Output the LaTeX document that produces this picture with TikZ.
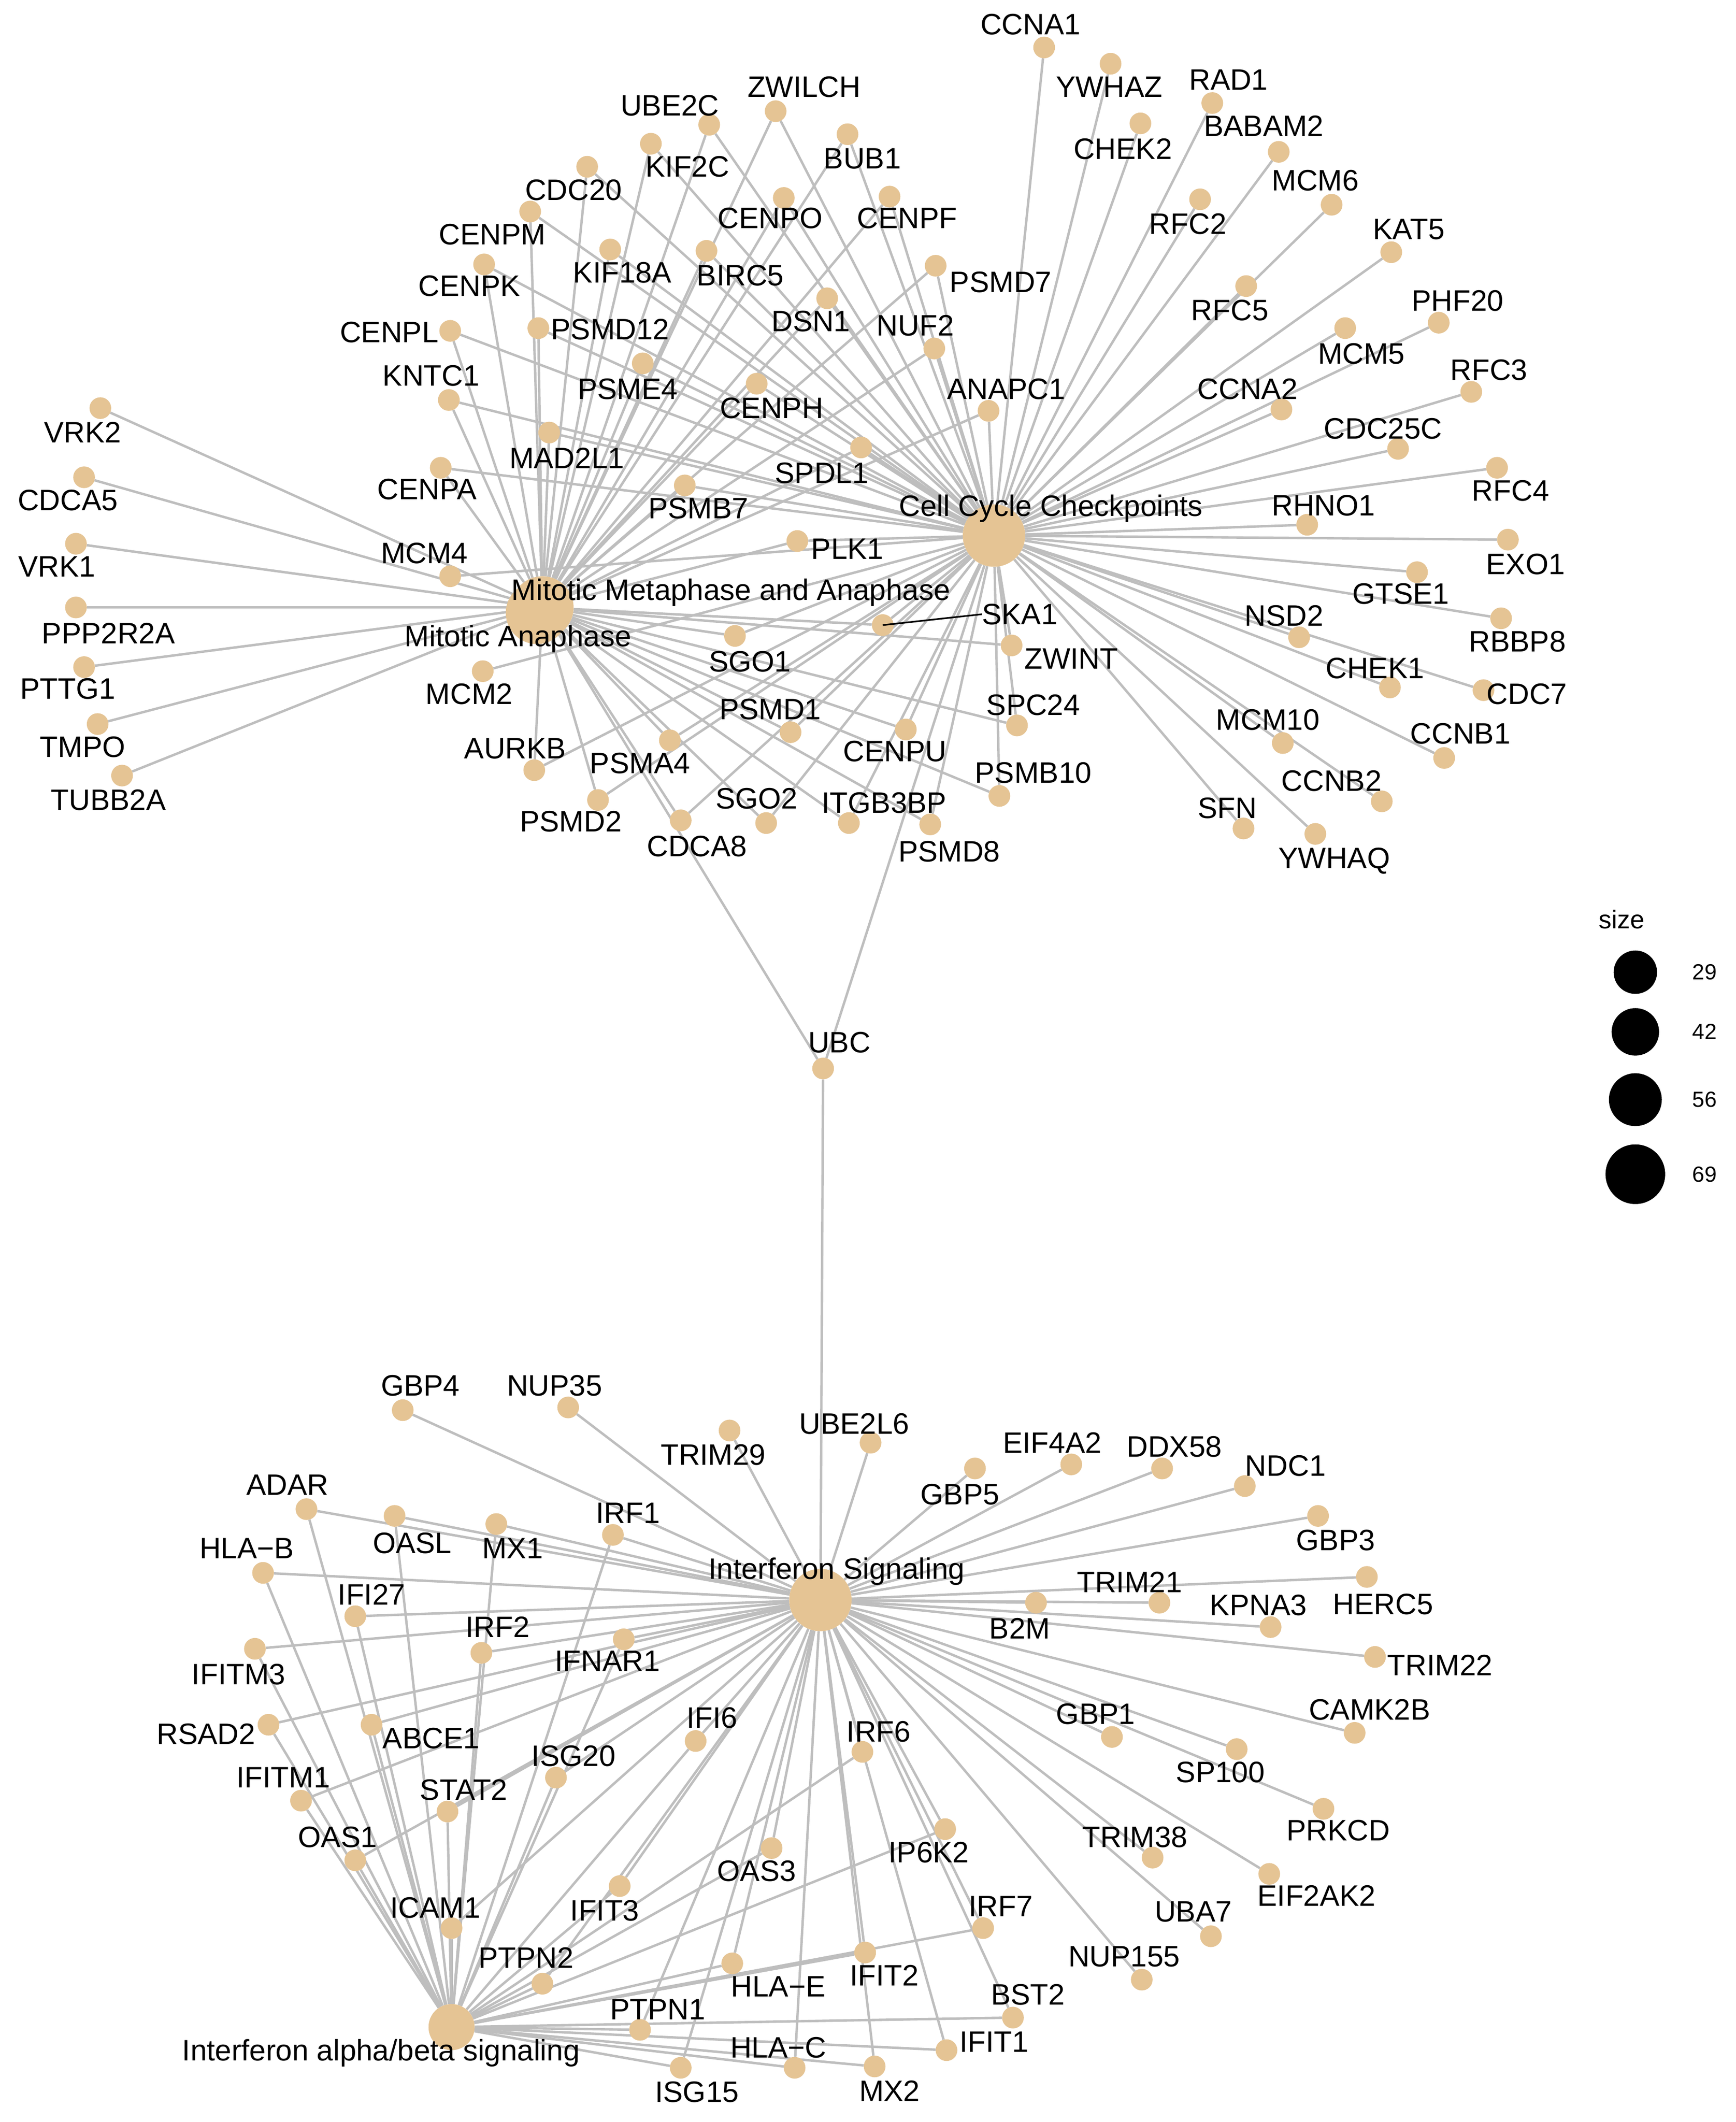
\documentclass[tikz,border=0pt]{standalone}
\usepackage{fontspec}
\usepackage{xstring}
\setmainfont{Liberation Sans}
\pgfdeclarelayer{bg}\pgfsetlayers{bg,main}
\definecolor{dotc}{RGB}{229,196,148}
\definecolor{edgec}{RGB}{190,190,190}
\begin{document}
\begin{tikzpicture}[x=1mm,y=-1mm,
 dot/.style={circle,fill=dotc,minimum size=16mm,inner sep=0pt},
 hub/.style={circle,fill=dotc,minimum size=46mm,inner sep=0pt},
 lab/.style={inner sep=0pt,font=\fontsize{62}{66}\selectfont},
 edge/.style={draw=edgec,line width=1.8mm},
 legc/.style={circle,fill=black,inner sep=0pt},
 legt/.style={inner sep=0pt,font=\fontsize{46}{50}\selectfont}]
\useasboundingbox (0,0) rectangle (1280,1565);
% hubs
\node[hub] (M2) at (396,452) {};
\node[hub] (M) at (400,448) {};
\node[hub] (C) at (733,395) {};
\node[hub] (I) at (605,1180) {};
\node[hub,minimum size=34mm] (A) at (333,1495) {};
\node[dot] (UBC) at (607,788) {};
\node[lab] (lM) at (539,437) {Mitotic Metaphase and Anaphase};
\node[lab] (lM2) at (382,471) {Mitotic Anaphase};
\node[lab] (lC) at (775,375) {Cell Cycle Checkpoints};
\node[lab] (lI) at (617,1159) {Interferon Signaling};
\node[lab] (lA) at (281,1514) {Interferon alpha/beta signaling};
\node[lab] (lUBC) at (619,769) {UBC};
% genes
\foreach \t/\x/\y/\lx/\ly in {
CCNA1/770/35/760/18, YWHAZ/819/47/818/64, RAD1/894/76/906/59, CHEK2/841/91/828/110,
BABAM2/943/112/932/93, MCM6/982/151/970/133, RFC2/885/147/876/165, KAT5/1026/186/1039/169,
RFC5/919/211/907/229, PHF20/1061/238/1075/222, MCM5/992/242/1004/261, RFC3/1085/289/1098/273,
CCNA2/945/302/920/287, ANAPC1/729/303/742/287, PSMD7/690/196/738/208, NUF2/689/257/675/240,
CDC25C/1031/331/1020/316, RFC4/1104/345/1114/362, RHNO1/964/387/976/373, EXO1/1112/398/1125/416,
GTSE1/1045/422/1033/438, RBBP8/1107/456/1119/473, NSD2/958/470/947/454, CHEK1/1025/507/1014/493,
CDC7/1094/509/1126/512, CCNB1/1065/559/1077/541, MCM10/946/548/935/531, CCNB2/1019/591/982/576,
SFN/917/611/905/596, YWHAQ/970/615/984/635, ZWINT/746/476/790/486, SKA1/651/461/752/453,
SPC24/750/535/762/520, PSMB10/737/587/762/570, PSMD8/686/608/700/628, ITGB3BP/626/607/652/592,
CENPU/668/538/660/554, SGO2/565/607/558/589, CDCA8/502/605/514/624, PSMD2/441/590/421/606,
PSMA4/494/546/472/563, PSMD1/583/540/568/523, SGO1/542/469/553/488, AURKB/394/568/380/552,
MCM2/356/495/346/512, PLK1/588/399/625/405, MCM4/332/425/313/408, PSMB7/505/358/515/375,
SPDL1/635/330/606/349, CENPH/558/283/569/301, CENPA/325/345/315/361, MAD2L1/405/319/418/338,
KNTC1/331/295/318/277, PSME4/474/268/463/287, CENPL/332/244/287/245, PSMD12/397/242/450/243,
DSN1/610/220/598/237, CENPK/357/195/346/211, KIF18A/450/184/459/201, BIRC5/521/185/546/203,
CENPM/391/156/363/173, CDC20/433/123/423/140, CENPO/578/146/568/161, CENPF/656/145/669/161,
KIF2C/480/106/507/123, BUB1/625/99/636/117, UBE2C/523/92/494/78, ZWILCH/572/82/593/64,
VRK2/74/301/61/319, CDCA5/62/352/50/369, VRK1/56/401/42/418, PPP2R2A/56/448/80/467,
PTTG1/62/492/50/508, TMPO/72/534/61/551, TUBB2A/90/572/80/590,
GBP4/297/1040/310/1022, NUP35/419/1038/409/1022, TRIM29/538/1055/526/1073, UBE2L6/642/1064/630/1050,
EIF4A2/790/1080/776/1064, GBP5/719/1083/708/1102, DDX58/857/1083/866/1067, NDC1/918/1096/948/1081,
GBP3/972/1118/985/1136, ADAR/226/1113/212/1095, OASL/291/1118/304/1138, MX1/366/1124/378/1142,
IRF1/452/1132/463/1116, HLA-B/194/1160/182/1142, IFI27/262/1192/274/1176, TRIM21/855/1182/833/1167,
B2M/764/1182/752/1201, HERC5/1008/1163/1020/1183, KPNA3/937/1200/928/1184, TRIM22/1014/1222/1062/1228,
IRF2/355/1219/367/1200, IFNAR1/460/1209/448/1225, IFITM3/188/1216/176/1235, CAMK2B/999/1278/1010/1261,
GBP1/820/1281/808/1264, SP100/912/1290/900/1307, RSAD2/198/1272/152/1279, ABCE1/274/1272/318/1282,
IFI6/513/1284/525/1267, IRF6/636/1292/648/1277, ISG20/410/1311/423/1295, IFITM1/222/1328/209/1311,
STAT2/330/1336/342/1320, PRKCD/976/1334/987/1350, OAS1/262/1372/249/1355, OAS3/569/1363/558/1380,
IP6K2/697/1349/685/1366, TRIM38/850/1370/837/1355, EIF2AK2/936/1382/971/1398, IFIT3/457/1391/446/1409,
ICAM1/333/1422/321/1407, UBA7/893/1428/880/1410, IRF7/725/1422/738/1406, PTPN2/400/1463/388/1444,
NUP155/842/1460/829/1443, HLA-E/540/1448/574/1465, IFIT2/638/1440/652/1457, BST2/747/1488/758/1471,
PTPN1/472/1497/485/1482, IFIT1/698/1512/733/1506, HLA-C/586/1525/574/1510, ISG15/502/1525/514/1543,
MX2/645/1524/656/1542}{
 \node[dot] (\t) at (\x,\y) {};
 \node[lab] (l\t) at (\lx,\ly) {\StrSubstitute{\t}{-}{−}};
}
\draw[line width=1.2mm] (SKA1.center) -- (lSKA1.west);
% legend
\node[legt,font=\fontsize{54}{58}\selectfont] (lsize) at (1196,678) {size};
\node[legc,minimum size=32mm] (s1) at (1206,717) {};
\node[legc,minimum size=35mm] (s2) at (1206,761) {};
\node[legc,minimum size=39mm] (s3) at (1206,811) {};
\node[legc,minimum size=44mm] (s4) at (1206,866) {};
\node[legt] (n1) at (1257,717) {29};
\node[legt] (n2) at (1257,761) {42};
\node[legt] (n3) at (1257,811) {56};
\node[legt] (n4) at (1257,866) {69};
\begin{pgfonlayer}{bg}
\fill[white] (0,0) rectangle (1280,1565);
\foreach \g in {VRK2,CDCA5,VRK1,PPP2R2A,PTTG1,TMPO,TUBB2A}{\draw[edge] (M) -- (\g);}
\foreach \g in {CCNA1,YWHAZ,RAD1,CHEK2,BABAM2,MCM6,RFC2,KAT5,RFC5,PHF20,MCM5,RFC3,CCNA2,CDC25C,RFC4,RHNO1,EXO1,GTSE1,RBBP8,NSD2,CHEK1,CDC7,CCNB1,MCM10,CCNB2,SFN,YWHAQ,MCM2,MCM4}{\draw[edge] (C) -- (\g);}
\foreach \g in {ANAPC1,PSMD7,NUF2,ZWINT,SKA1,SPC24,PSMB10,PSMD8,ITGB3BP,CENPU,SGO2,CDCA8,PSMD2,PSMA4,PSMD1,SGO1,AURKB,PLK1,PSMB7,SPDL1,CENPH,CENPA,MAD2L1,KNTC1,PSME4,CENPL,PSMD12,DSN1,CENPK,KIF18A,BIRC5,CENPM,CDC20,CENPO,CENPF,KIF2C,BUB1,UBE2C,ZWILCH}{\draw[edge] (M) -- (\g); \draw[edge] (C) -- (\g);}
\draw[edge] (UBC) -- (M); \draw[edge] (UBC) -- (C); \draw[edge] (UBC) -- (I);
\foreach \g in {GBP4,NUP35,TRIM29,UBE2L6,EIF4A2,GBP5,DDX58,NDC1,GBP3,TRIM21,B2M,HERC5,KPNA3,TRIM22,CAMK2B,GBP1,SP100,PRKCD,TRIM38,EIF2AK2,UBA7,NUP155}{\draw[edge] (I) -- (\g);}
\foreach \g in {ADAR,OASL,MX1,IRF1,HLA-B,IFI27,IRF2,IFNAR1,IFITM3,RSAD2,ABCE1,IFI6,IRF6,ISG20,IFITM1,STAT2,OAS1,OAS3,IP6K2,IFIT3,ICAM1,IRF7,PTPN2,HLA-E,IFIT2,BST2,PTPN1,IFIT1,HLA-C,ISG15,MX2}{\draw[edge] (I) -- (\g); \draw[edge] (A) -- (\g);}
\end{pgfonlayer}
\end{tikzpicture}
\end{document}
